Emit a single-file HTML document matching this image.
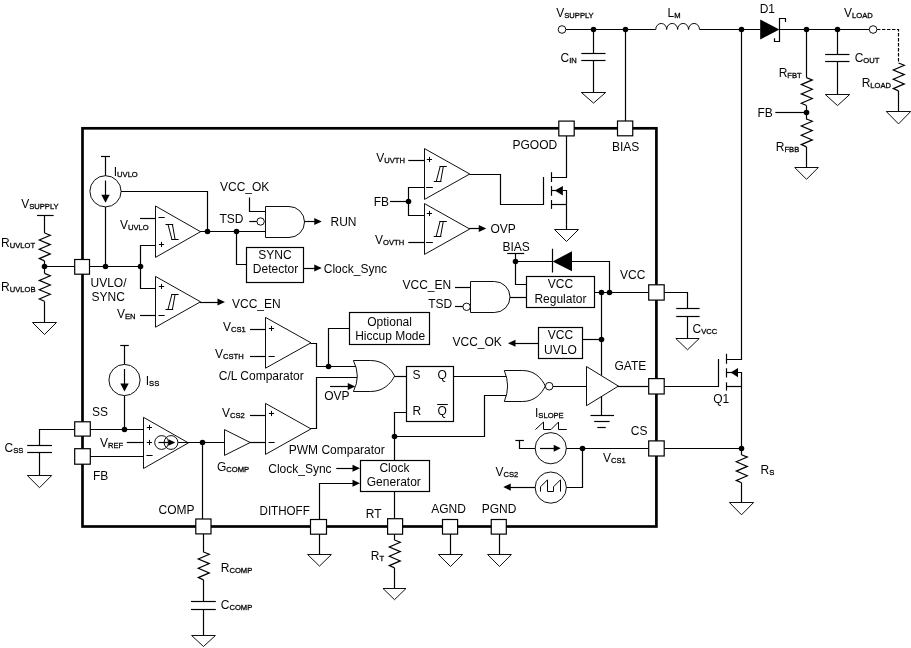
<!DOCTYPE html>
<html><head><meta charset="utf-8"><title>Block diagram</title>
<style>
html,body{margin:0;padding:0;background:#fff;}
body{width:911px;height:648px;overflow:hidden;}
svg{display:block;transform:translateZ(0);}
svg *{vector-effect:none;}
.g{stroke:#000;stroke-width:1.2;fill:none;stroke-linecap:butt;stroke-linejoin:miter;}
.g text{opacity:.99;stroke:none;fill:#000;font-family:"Liberation Sans",sans-serif;font-size:12px;}
.g .sub{font-size:7.6px;stroke:#000;stroke-width:.3px;}
.g .thin{stroke-width:0.95;}
</style></head>
<body>
<svg width="911" height="648" viewBox="0 0 911 648">
<rect x="0" y="0" width="911" height="648" fill="#fff"/>
<g class="g" opacity="0.999">
<rect x="82.5" y="128.3" width="573.9" height="398.2" stroke-width="2.7" fill="none"/>
<text x="21.20" y="207.70">V<tspan class="sub" dy="0.9">SUPPLY</tspan></text>
<polyline points="37.00,215.50 53.60,215.50"/>
<polyline points="44.50,215.60 44.50,233.00"/>
<polyline points="44.50,233.00 50.30,235.30 39.30,240.00 50.30,244.60 39.30,249.30 50.30,253.90 39.30,258.60 44.50,260.90"/>
<polyline points="44.50,260.90 44.50,273.40"/>
<polyline points="44.50,273.40 50.30,275.70 39.30,280.40 50.30,285.00 39.30,289.70 50.30,294.30 39.30,299.00 44.50,301.30"/>
<polyline points="44.50,301.30 44.50,322.00"/>
<polygon points="32.50,322.50 56.50,322.50 44.50,334.50" class="thin"/>
<text x="1.10" y="247.20">R<tspan class="sub" dy="0.9">UVLOT</tspan></text>
<text x="1.10" y="291.40">R<tspan class="sub" dy="0.9">UVLOB</tspan></text>
<polyline points="44.50,266.50 140.00,266.50"/>
<circle cx="44.50" cy="266.50" r="2.8" fill="#000" stroke="none"/>
<circle cx="105.50" cy="266.50" r="2.8" fill="#000" stroke="none"/>
<circle cx="140.50" cy="266.50" r="2.8" fill="#000" stroke="none"/>
<polyline points="101.00,156.50 110.00,156.50"/>
<polyline points="105.50,156.00 105.50,175.70"/>
<circle cx="105.5" cy="191.3" r="15.6" fill="none" class="thin"/>
<polyline points="105.50,180.50 105.50,196.00"/>
<polygon points="101.30,194.70 109.70,194.70 105.50,202.70" fill="#000" stroke="none"/>
<polyline points="105.50,206.90 105.50,266.60"/>
<polyline points="121.10,191.50 207.50,191.50 207.50,231.30"/>
<text x="113.75" y="175.90">I<tspan class="sub" dy="0.9">UVLO</tspan></text>
<polygon points="155.50,206.00 155.50,257.40 200.50,231.70" fill="none" class="thin"/>
<polyline points="140.00,218.50 155.50,218.50"/>
<polyline points="140.50,266.60 140.50,245.50 155.50,245.50"/>
<polyline points="158.50,217.50 164.70,217.50" stroke-width="1.0"/>
<polyline points="158.90,244.50 164.10,244.50" stroke-width="1.0"/>
<polyline points="161.50,241.80 161.50,247.00" stroke-width="1.0"/>
<polyline points="165.50,224.50 173.20,224.50" stroke-width="1.0"/>
<polyline points="168.00,224.40 171.90,239.40" stroke-width="1.0"/>
<polyline points="172.40,224.40 175.10,239.40" stroke-width="1.0"/>
<polyline points="171.30,239.50 178.60,239.50" stroke-width="1.0"/>
<text x="120.00" y="229.15">V<tspan class="sub" dy="0.9">UVLO</tspan></text>
<polyline points="200.00,231.50 265.00,231.50"/>
<circle cx="207.50" cy="231.50" r="2.8" fill="#000" stroke="none"/>
<circle cx="236.50" cy="231.50" r="2.8" fill="#000" stroke="none"/>
<polygon points="155.50,276.40 155.50,327.20 200.50,301.80" fill="none" class="thin"/>
<polyline points="140.50,266.60 140.50,288.50 155.50,288.50"/>
<polyline points="140.00,315.50 155.50,315.50"/>
<polyline points="158.90,286.50 164.10,286.50" stroke-width="1.0"/>
<polyline points="161.50,283.90 161.50,289.10" stroke-width="1.0"/>
<polyline points="158.50,315.50 164.70,315.50" stroke-width="1.0"/>
<polyline points="165.50,309.50 173.20,309.50" stroke-width="1.0"/>
<polyline points="168.00,309.40 171.90,294.40" stroke-width="1.0"/>
<polyline points="172.40,309.40 175.10,294.40" stroke-width="1.0"/>
<polyline points="171.30,294.50 178.60,294.50" stroke-width="1.0"/>
<text x="117.00" y="318.40">V<tspan class="sub" dy="0.9">EN</tspan></text>
<polyline points="200.00,302.50 218.00,302.50"/>
<polygon points="217.50,298.40 217.50,305.60 225.00,302.00" fill="#000" stroke="none"/>
<text x="232.00" y="307.90">VCC_EN</text>
<text x="90.50" y="287.40">UVLO/</text>
<text x="91.60" y="301.15">SYNC</text>
<polyline points="249.50,197.50 249.50,211.50 265.00,211.50"/>
<polyline points="249.25,221.50 257.00,221.50"/>
<path d="M265.50,206.50 H289.00 A15.50,15.50 0 0 1 289.00,237.50 H265.50 Z" fill="#fff" class="thin"/>
<circle cx="260.60" cy="221.50" r="3.7" fill="#fff" class="thin"/>
<polyline points="304.50,221.50 315.00,221.50"/>
<polygon points="314.25,217.90 314.25,225.10 321.75,221.50" fill="#000" stroke="none"/>
<text x="220.00" y="190.90">VCC_OK</text>
<text x="219.50" y="222.90">TSD</text>
<text x="330.50" y="225.90">RUN</text>
<polyline points="236.50,231.30 236.50,264.50 246.25,264.50"/>
<rect x="246.50" y="247.50" width="57.00" height="35.00" fill="none"/>
<text x="275.00" y="259.15" text-anchor="middle">SYNC</text>
<text x="275.50" y="272.90" text-anchor="middle">Detector</text>
<polyline points="303.75,268.50 315.00,268.50"/>
<polygon points="314.25,264.40 314.25,271.60 321.75,268.00" fill="#000" stroke="none"/>
<text x="323.75" y="272.90">Clock_Sync</text>
<polygon points="424.50,148.60 424.50,199.40 469.75,174.00" fill="none" class="thin"/>
<polygon points="424.50,203.60 424.50,254.40 469.75,229.00" fill="none" class="thin"/>
<polyline points="408.25,160.50 424.50,160.50"/>
<polyline points="424.50,187.50 408.50,187.50 408.50,215.50 424.50,215.50"/>
<polyline points="408.25,242.50 424.50,242.50"/>
<polyline points="390.00,201.50 408.25,201.50"/>
<circle cx="408.50" cy="201.50" r="2.8" fill="#000" stroke="none"/>
<polyline points="426.80,159.50 432.00,159.50" stroke-width="1.0"/>
<polyline points="429.50,156.90 429.50,162.10" stroke-width="1.0"/>
<polyline points="426.10,187.50 432.90,187.50" stroke-width="1.0"/>
<polyline points="426.80,213.50 432.00,213.50" stroke-width="1.0"/>
<polyline points="429.50,210.90 429.50,216.10" stroke-width="1.0"/>
<polyline points="426.10,242.50 432.90,242.50" stroke-width="1.0"/>
<polyline points="433.70,181.50 441.40,181.50" stroke-width="1.0"/>
<polyline points="436.20,181.70 440.10,166.70" stroke-width="1.0"/>
<polyline points="440.60,181.70 443.30,166.70" stroke-width="1.0"/>
<polyline points="439.50,166.50 446.80,166.50" stroke-width="1.0"/>
<polyline points="433.70,236.50 441.40,236.50" stroke-width="1.0"/>
<polyline points="436.20,236.30 440.10,221.30" stroke-width="1.0"/>
<polyline points="440.60,236.30 443.30,221.30" stroke-width="1.0"/>
<polyline points="439.50,221.50 446.80,221.50" stroke-width="1.0"/>
<text x="376.25" y="162.40">V<tspan class="sub" dy="0.9">UVTH</tspan></text>
<text x="373.75" y="205.90">FB</text>
<text x="375.00" y="244.15">V<tspan class="sub" dy="0.9">OVTH</tspan></text>
<polyline points="469.25,174.50 500.50,174.50 500.50,204.50 543.60,204.50"/>
<polyline points="469.25,228.50 480.00,228.50"/>
<polygon points="478.75,224.90 478.75,232.10 486.25,228.50" fill="#000" stroke="none"/>
<text x="490.50" y="232.90">OVP</text>
<polyline points="543.50,177.00 543.50,205.00"/>
<polyline points="551.50,172.20 551.50,182.00"/>
<polyline points="551.50,186.10 551.50,195.80"/>
<polyline points="551.50,200.00 551.50,208.90"/>
<polyline points="551.50,177.50 566.50,177.50 566.50,136.00"/>
<polyline points="551.50,204.50 566.50,204.50"/>
<polyline points="551.50,190.50 556.00,190.50"/>
<polygon points="554.7,190.5 562.9,186.1 562.9,195.4" fill="#000" stroke="none"/>
<polyline points="562.90,190.50 566.50,190.50 566.50,229.20"/>
<polygon points="554.50,229.50 578.50,229.50 566.50,241.50" class="thin"/>
<text x="512.50" y="149.15">PGOOD</text>
<text x="612.00" y="151.15">BIAS</text>
<text x="502.50" y="250.90">BIAS</text>
<polyline points="507.20,253.50 524.20,253.50"/>
<polyline points="515.50,253.30 515.50,284.50 526.25,284.50"/>
<circle cx="515.50" cy="261.50" r="2.8" fill="#000" stroke="none"/>
<polyline points="515.50,261.50 552.50,261.50"/>
<polyline points="552.50,248.75 552.50,272.50"/>
<polygon points="552.6,261.5 572,251.3 572,271.2" fill="#000" stroke="none"/>
<polyline points="572.00,261.50 609.50,261.50 609.50,292.00"/>
<rect x="526.50" y="276.50" width="68.00" height="31.00" fill="none"/>
<text x="560.40" y="288.40" text-anchor="middle">VCC</text>
<text x="560.40" y="302.90" text-anchor="middle">Regulator</text>
<polyline points="455.00,287.50 470.50,287.50"/>
<polyline points="455.00,306.50 463.00,306.50"/>
<path d="M470.50,281.50 H494.50 A15.50,15.50 0 0 1 494.50,312.50 H470.50 Z" fill="#fff" class="thin"/>
<circle cx="466.60" cy="306.80" r="3.7" fill="#fff" class="thin"/>
<polyline points="510.00,297.50 526.25,297.50"/>
<text x="402.50" y="289.15">VCC_EN</text>
<text x="428.25" y="307.90">TSD</text>
<rect x="538.50" y="327.50" width="44.00" height="31.00" fill="none"/>
<text x="560.40" y="339.15" text-anchor="middle">VCC</text>
<text x="560.40" y="353.65" text-anchor="middle">UVLO</text>
<polyline points="538.25,343.50 515.00,343.50"/>
<polygon points="515.50,339.65 515.50,346.85 508.00,343.25" fill="#000" stroke="none"/>
<text x="452.50" y="345.90">VCC_OK</text>
<polyline points="594.50,292.50 648.50,292.50"/>
<circle cx="601.50" cy="292.50" r="2.8" fill="#000" stroke="none"/>
<circle cx="609.50" cy="292.50" r="2.8" fill="#000" stroke="none"/>
<circle cx="601.50" cy="339.50" r="2.8" fill="#000" stroke="none"/>
<polyline points="582.50,339.50 601.60,339.50"/>
<polyline points="601.50,292.00 601.50,375.50"/>
<text x="620.00" y="278.65">VCC</text>
<polyline points="664.00,292.50 687.50,292.50 687.50,308.25"/>
<polyline points="676.20,308.50 699.60,308.50"/>
<polyline points="676.20,316.50 699.60,316.50"/>
<polyline points="687.50,316.25 687.50,338.25"/>
<polygon points="675.80,338.50 699.20,338.50 687.50,349.80" class="thin"/>
<text x="692.50" y="333.40">C<tspan class="sub" dy="0.9">VCC</tspan></text>
<polygon points="265.50,317.40 265.50,368.20 311.00,342.80" fill="none" class="thin"/>
<polyline points="250.00,329.50 265.50,329.50"/>
<polyline points="250.00,356.50 265.50,356.50"/>
<polyline points="268.90,328.50 274.10,328.50" stroke-width="1.0"/>
<polyline points="271.50,325.90 271.50,331.10" stroke-width="1.0"/>
<polyline points="268.50,356.50 274.70,356.50" stroke-width="1.0"/>
<text x="223.00" y="330.90">V<tspan class="sub" dy="0.9">CS1</tspan></text>
<text x="215.00" y="357.90">V<tspan class="sub" dy="0.9">CSTH</tspan></text>
<text x="218.75" y="380.40">C/L Comparator</text>
<polyline points="310.50,343.50 316.50,343.50 316.50,366.50 356.00,366.50"/>
<circle cx="328.50" cy="366.50" r="2.8" fill="#000" stroke="none"/>
<polyline points="328.50,366.25 328.50,328.50 349.25,328.50"/>
<rect x="349.50" y="312.50" width="80.00" height="32.00" fill="none"/>
<text x="389.60" y="325.90" text-anchor="middle">Optional</text>
<text x="390.20" y="339.90" text-anchor="middle">Hiccup Mode</text>
<polygon points="265.50,403.40 265.50,454.40 311.00,428.90" fill="none" class="thin"/>
<polyline points="250.00,415.50 265.50,415.50"/>
<polyline points="249.50,442.50 265.50,442.50"/>
<polyline points="268.90,413.50 274.10,413.50" stroke-width="1.0"/>
<polyline points="271.50,410.90 271.50,416.10" stroke-width="1.0"/>
<polyline points="268.50,442.50 274.70,442.50" stroke-width="1.0"/>
<text x="222.00" y="416.65">V<tspan class="sub" dy="0.9">CS2</tspan></text>
<text x="288.75" y="454.00">PWM Comparator</text>
<polyline points="310.50,428.50 316.50,428.50 316.50,377.50 357.50,377.50"/>
<polyline points="330.00,386.50 350.00,386.50"/>
<polygon points="347.75,382.90 347.75,390.10 355.25,386.50" fill="#000" stroke="none"/>
<text x="324.25" y="400.40">OVP</text>
<path d="M353.40,360.50 H370.60 C383.08,360.50 390.76,368.25 394.60,376.00 C390.76,383.75 383.08,391.50 370.60,391.50 H353.40 Q361.20,376.00 353.40,360.50 Z" fill="#fff" class="thin"/>
<polyline points="394.60,376.50 406.25,376.50"/>
<rect x="406.50" y="366.50" width="47.00" height="55.00" fill="none"/>
<text x="412.60" y="378.90">S</text>
<text x="437.50" y="378.90">Q</text>
<text x="412.60" y="414.65">R</text>
<text x="437.50" y="414.65">Q</text>
<polyline points="437.20,404.50 447.80,404.50" stroke-width="1.0"/>
<polyline points="453.60,376.50 507.00,376.50"/>
<polyline points="406.25,412.50 394.50,412.50 394.50,460.50"/>
<circle cx="394.50" cy="436.50" r="2.8" fill="#000" stroke="none"/>
<polyline points="394.50,436.50 484.50,436.50 484.50,395.50 507.00,395.50"/>
<path d="M504.30,370.50 H522.70 C534.45,370.50 541.68,378.25 545.30,386.00 C541.68,393.75 534.45,401.50 522.70,401.50 H504.30 Q510.90,386.00 504.30,370.50 Z" fill="#fff" class="thin"/>
<circle cx="549.20" cy="386.20" r="3.8" fill="#fff" class="thin"/>
<polyline points="553.00,386.50 586.30,386.50"/>
<polygon points="586.50,366.50 586.50,405.70 618.40,386.10" fill="#fff" class="thin"/>
<polyline points="601.50,396.30 601.50,415.30"/>
<polyline points="590.50,415.50 614.00,415.50"/>
<polyline points="594.20,421.50 609.70,421.50"/>
<polyline points="597.30,427.50 605.70,427.50"/>
<polyline points="617.90,386.50 648.50,386.50"/>
<text x="614.50" y="369.90">GATE</text>
<rect x="360.50" y="460.50" width="69.00" height="31.00" fill="none"/>
<text x="394.40" y="472.15" text-anchor="middle">Clock</text>
<text x="393.80" y="486.15" text-anchor="middle">Generator</text>
<polyline points="394.50,491.75 394.50,519.00"/>
<text x="268.25" y="472.90">Clock_Sync</text>
<polyline points="336.25,468.50 353.00,468.50"/>
<polygon points="352.50,464.65 352.50,471.85 360.00,468.25" fill="#000" stroke="none"/>
<polyline points="319.50,519.00 319.50,483.50 353.00,483.50"/>
<polygon points="352.50,479.65 352.50,486.85 360.00,483.25" fill="#000" stroke="none"/>
<text x="535.00" y="417.40">I<tspan class="sub" dy="0.9">SLOPE</tspan></text>
<polyline points="535.40,429.60 543.50,422.00 543.50,429.50 551.00,429.50 558.50,422.00 558.50,429.50 566.80,429.50" stroke-width="1.0"/>
<polyline points="515.40,440.50 523.90,440.50"/>
<polyline points="519.50,440.50 519.50,448.50 535.20,448.50"/>
<circle cx="550.75" cy="448.2" r="15.6" fill="none" class="thin"/>
<polyline points="540.00,448.50 555.00,448.50"/>
<polygon points="553.70,444.80 553.70,451.80 560.70,448.30" fill="#000" stroke="none"/>
<polyline points="566.30,448.50 648.50,448.50"/>
<circle cx="582.50" cy="448.50" r="2.8" fill="#000" stroke="none"/>
<polyline points="582.50,448.20 582.50,487.50 566.30,487.50"/>
<circle cx="550.75" cy="487.6" r="15.6" fill="none" class="thin"/>
<polyline points="540.50,491.60 540.50,486.80 547.50,479.80 547.50,491.50 553.50,491.50 553.50,486.80 560.50,479.80 560.50,491.60" stroke-width="1.0"/>
<polyline points="535.20,487.50 510.00,487.50"/>
<polygon points="510.75,483.50 510.75,490.70 503.25,487.10" fill="#000" stroke="none"/>
<text x="495.50" y="476.15">V<tspan class="sub" dy="0.9">CS2</tspan></text>
<text x="603.00" y="462.15">V<tspan class="sub" dy="0.9">CS1</tspan></text>
<text x="630.75" y="434.90">CS</text>
<polyline points="120.20,345.50 128.80,345.50"/>
<polyline points="124.50,345.20 124.50,364.40"/>
<circle cx="124.5" cy="380" r="15.6" fill="none" class="thin"/>
<polyline points="124.50,369.00 124.50,385.00"/>
<polygon points="120.30,383.40 128.70,383.40 124.50,391.40" fill="#000" stroke="none"/>
<polyline points="124.50,395.60 124.50,429.40"/>
<text x="145.75" y="384.90">I<tspan class="sub" dy="0.9">SS</tspan></text>
<polyline points="39.50,445.00 39.50,429.50 143.75,429.50"/>
<circle cx="124.50" cy="429.50" r="2.8" fill="#000" stroke="none"/>
<polyline points="27.20,445.50 52.00,445.50"/>
<polyline points="27.20,452.50 52.00,452.50"/>
<polyline points="39.50,452.25 39.50,475.30"/>
<polygon points="27.30,475.50 51.70,475.50 39.50,487.70" class="thin"/>
<text x="4.50" y="452.15">C<tspan class="sub" dy="0.9">SS</tspan></text>
<text x="92.00" y="415.90">SS</text>
<text x="93.00" y="479.65">FB</text>
<polyline points="90.00,456.50 143.75,456.50"/>
<polyline points="126.75,442.50 143.75,442.50"/>
<text x="100.00" y="447.40">V<tspan class="sub" dy="0.9">REF</tspan></text>
<polygon points="143.50,417.30 143.50,468.50 188.40,442.90" fill="none" class="thin"/>
<polyline points="146.80,427.50 152.00,427.50" stroke-width="1.0"/>
<polyline points="149.50,424.90 149.50,430.10" stroke-width="1.0"/>
<polyline points="146.80,442.50 152.00,442.50" stroke-width="1.0"/>
<polyline points="149.50,439.90 149.50,445.10" stroke-width="1.0"/>
<polyline points="146.40,455.50 152.60,455.50" stroke-width="1.0"/>
<circle cx="161.6" cy="442.5" r="6.9" fill="none" class="thin"/>
<circle cx="171" cy="442.5" r="6.9" fill="none" class="thin"/>
<polyline points="158.50,442.50 168.00,442.50"/>
<polygon points="168.40,439.20 168.40,445.80 175.30,442.50" fill="#000" stroke="none"/>
<polyline points="177.90,442.50 224.50,442.50"/>
<circle cx="202.50" cy="442.50" r="2.8" fill="#000" stroke="none"/>
<polyline points="202.50,442.50 202.50,519.00"/>
<polygon points="224.50,429.60 224.50,455.40 250.20,442.50" fill="none" class="thin"/>
<text x="217.00" y="470.80">G<tspan class="sub" dy="0.9">COMP</tspan></text>
<text x="158.50" y="513.90">COMP</text>
<polyline points="203.50,534.00 203.50,552.25"/>
<polyline points="203.50,552.00 209.30,554.30 198.30,559.00 209.30,563.60 198.30,568.30 209.30,572.90 198.30,577.60 203.50,579.90"/>
<polyline points="203.50,579.90 203.50,601.00"/>
<polyline points="191.00,601.50 215.80,601.50"/>
<polyline points="191.00,609.50 215.80,609.50"/>
<polyline points="203.50,609.00 203.50,635.30"/>
<polygon points="191.60,635.50 215.40,635.50 203.50,646.50" class="thin"/>
<text x="220.75" y="572.15">R<tspan class="sub" dy="0.9">COMP</tspan></text>
<text x="220.75" y="609.40">C<tspan class="sub" dy="0.9">COMP</tspan></text>
<text x="259.50" y="514.90" textLength="50.3" lengthAdjust="spacingAndGlyphs">DITHOFF</text>
<polyline points="319.50,534.00 319.50,554.00"/>
<polygon points="307.60,554.50 331.40,554.50 319.50,566.10" class="thin"/>
<text x="365.75" y="517.90">RT</text>
<polyline points="394.50,534.00 394.50,540.00"/>
<polyline points="394.50,540.00 400.30,542.30 389.30,547.00 400.30,551.60 389.30,556.30 400.30,560.90 389.30,565.60 394.50,567.90"/>
<polyline points="394.50,567.90 394.50,588.20"/>
<polygon points="383.00,588.50 406.00,588.50 394.50,599.70" class="thin"/>
<text x="370.75" y="560.40">R<tspan class="sub" dy="0.9">T</tspan></text>
<text x="431.25" y="512.90">AGND</text>
<text x="481.75" y="512.90">PGND</text>
<polyline points="450.50,534.00 450.50,554.30"/>
<polygon points="438.40,554.50 462.60,554.50 450.50,566.50" class="thin"/>
<polyline points="499.50,534.00 499.50,554.30"/>
<polygon points="487.60,554.50 511.40,554.50 499.50,566.50" class="thin"/>
<text x="556.25" y="16.65">V<tspan class="sub" dy="0.9">SUPPLY</tspan></text>
<polyline points="566.00,29.50 655.75,29.50"/>
<circle cx="562" cy="29.5" r="3.8" fill="#fff" class="thin"/>
<circle cx="593.50" cy="29.50" r="2.8" fill="#000" stroke="none"/>
<circle cx="625.50" cy="29.50" r="2.8" fill="#000" stroke="none"/>
<polyline points="593.50,29.50 593.50,53.75"/>
<polyline points="581.30,53.50 605.50,53.50"/>
<polyline points="581.30,60.50 605.50,60.50"/>
<polyline points="593.50,60.75 593.50,92.50"/>
<polygon points="581.40,92.50 605.60,92.50 593.50,103.10" class="thin"/>
<text x="560.50" y="62.15">C<tspan class="sub" dy="0.9">IN</tspan></text>
<polyline points="625.50,29.50 625.50,121.00"/>
<path d="M655.75,29.5 a5.469,6.069 0 0 1 10.938,0 a5.469,6.069 0 0 1 10.938,0 a5.469,6.069 0 0 1 10.938,0 a5.469,6.069 0 0 1 10.938,0" fill="none" class="thin"/>
<text x="667.50" y="17.40">L<tspan class="sub" dy="0.9">M</tspan></text>
<polyline points="699.50,29.50 760.50,29.50"/>
<circle cx="741.50" cy="29.50" r="2.8" fill="#000" stroke="none"/>
<polygon points="760.2,19.5 760.2,39.5 779.4,29.5" fill="#000" stroke="none"/>
<polyline points="774.50,38.20 774.50,41.50 779.50,41.50 779.50,18.50 785.50,18.50 785.50,22.00"/>
<text x="759.70" y="13.10">D1</text>
<polyline points="779.90,29.50 869.30,29.50"/>
<circle cx="806.50" cy="29.50" r="2.8" fill="#000" stroke="none"/>
<circle cx="837.50" cy="29.50" r="2.8" fill="#000" stroke="none"/>
<circle cx="873.1" cy="29.5" r="3.8" fill="#fff" class="thin"/>
<text x="844.00" y="17.10">V<tspan class="sub" dy="0.9">LOAD</tspan></text>
<polyline points="877.00,29.50 898.50,29.50 898.50,62.50" stroke-dasharray="3.4,1.6"/>
<polyline points="898.50,63.00 904.30,65.30 893.30,70.00 904.30,74.60 893.30,79.30 904.30,83.90 893.30,88.60 898.50,90.90"/>
<polyline points="898.50,90.90 898.50,111.00"/>
<polygon points="886.30,111.50 910.70,111.50 898.50,123.90" class="thin"/>
<text x="861.70" y="86.60">R<tspan class="sub" dy="0.9">LOAD</tspan></text>
<polyline points="837.50,29.50 837.50,54.40"/>
<polyline points="825.10,54.50 849.50,54.50"/>
<polyline points="825.10,61.50 849.50,61.50"/>
<polyline points="837.50,61.80 837.50,94.30"/>
<polygon points="825.30,94.50 849.70,94.50 837.50,105.60" class="thin"/>
<text x="854.70" y="62.40">C<tspan class="sub" dy="0.9">OUT</tspan></text>
<polyline points="806.50,29.50 806.50,77.60"/>
<polyline points="806.50,77.60 812.30,79.90 801.30,84.60 812.30,89.20 801.30,93.90 812.30,98.50 801.30,103.20 806.50,105.50"/>
<polyline points="806.50,105.50 806.50,119.50"/>
<circle cx="806.50" cy="112.50" r="2.8" fill="#000" stroke="none"/>
<polyline points="775.30,112.50 806.30,112.50"/>
<polyline points="806.50,119.00 812.30,121.30 801.30,126.00 812.30,130.60 801.30,135.30 812.30,139.90 801.30,144.60 806.50,146.90"/>
<polyline points="806.50,146.90 806.50,167.60"/>
<polygon points="794.70,167.50 818.30,167.50 806.50,179.30" class="thin"/>
<text x="778.70" y="76.80">R<tspan class="sub" dy="0.9">FBT</tspan></text>
<text x="757.40" y="116.70">FB</text>
<text x="775.80" y="151.00">R<tspan class="sub" dy="0.9">FBB</tspan></text>
<polyline points="741.50,29.50 741.50,359.50 726.30,359.50"/>
<polyline points="664.00,386.50 718.50,386.50 718.50,359.00"/>
<polyline points="726.50,353.75 726.50,363.75"/>
<polyline points="726.50,368.25 726.50,377.50"/>
<polyline points="726.50,382.30 726.50,390.60"/>
<polyline points="726.30,386.50 741.60,386.50"/>
<polyline points="726.30,372.50 732.00,372.50"/>
<polygon points="730.6,372.6 738,368.1 738,377.3" fill="#000" stroke="none"/>
<polyline points="738.00,372.50 741.50,372.50 741.50,455.00"/>
<text x="713.25" y="403.10">Q1</text>
<polyline points="664.00,448.50 741.60,448.50"/>
<circle cx="741.50" cy="448.50" r="2.8" fill="#000" stroke="none"/>
<polyline points="741.50,454.80 747.30,457.10 736.30,461.80 747.30,466.40 736.30,471.10 747.30,475.70 736.30,480.40 741.50,482.70"/>
<polyline points="741.50,482.70 741.50,502.10"/>
<polygon points="729.40,502.50 753.60,502.50 741.50,514.80" class="thin"/>
<text x="760.60" y="474.15">R<tspan class="sub" dy="0.9">S</tspan></text>
<rect x="74.70" y="259.50" width="14.80" height="14.70" fill="#fff"/>
<rect x="74.70" y="421.80" width="15.60" height="14.30" fill="#fff"/>
<rect x="74.70" y="448.70" width="15.60" height="15.50" fill="#fff"/>
<rect x="195.80" y="519.00" width="15.20" height="14.90" fill="#fff"/>
<rect x="310.50" y="519.50" width="16.00" height="14.70" fill="#fff"/>
<rect x="387.60" y="518.70" width="15.00" height="15.50" fill="#fff"/>
<rect x="442.50" y="519.50" width="15.10" height="14.60" fill="#fff"/>
<rect x="491.25" y="519.50" width="15.05" height="14.60" fill="#fff"/>
<rect x="558.80" y="121.10" width="15.40" height="14.80" fill="#fff"/>
<rect x="617.50" y="121.00" width="15.25" height="14.80" fill="#fff"/>
<rect x="648.70" y="284.80" width="15.50" height="15.30" fill="#fff"/>
<rect x="648.70" y="378.60" width="15.50" height="15.40" fill="#fff"/>
<rect x="648.70" y="440.90" width="15.50" height="15.10" fill="#fff"/>
</g>
</svg>
</body></html>
